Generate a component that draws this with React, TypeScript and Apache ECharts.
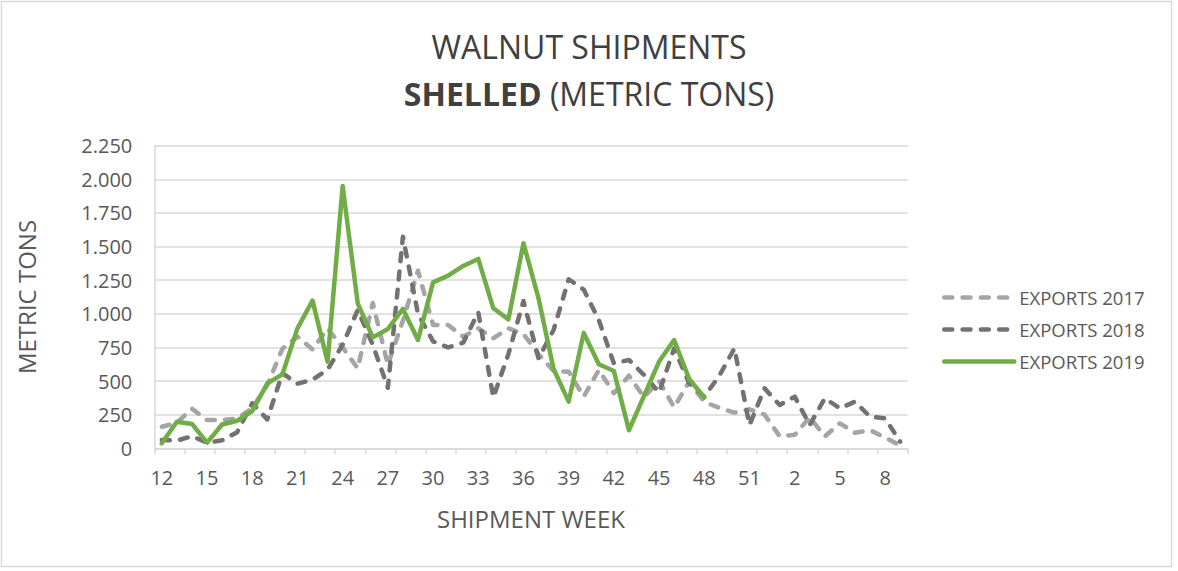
import React, { useEffect, useRef } from "react";
import * as echarts from "echarts";

const weeks = [
  "12", "13", "14", "15", "16", "17", "18", "19", "20", "21", "22", "23", "24", "25", "26", "27",
  "28", "29", "30", "31", "32", "33", "34", "35", "36", "37", "38", "39", "40", "41", "42", "43",
  "44", "45", "46", "47", "48", "49", "50", "51", "52", "1", "2", "3", "4", "5", "6", "7", "8", "9",
];

const exports2017 = [
  160, 190, 295, 210, 210, 220, 300, 470, 740, 830, 735, 890, 750, 595, 1080, 620,
  950, 1320, 917, 917, 830, 892, 818, 892, 850, 700, 575, 570, 384, 582, 410, 540,
  380, 500, 305, 495, 345, 300, 265, 290, 250, 90, 100, 230, 88, 186, 115, 135, 80, 20,
];

const exports2018 = [
  62, 57, 90, 42, 60, 120, 335, 215, 558, 480, 510, 585, 770, 1028, 770, 450,
  1573, 1000, 795, 750, 785, 1012, 378, 700, 1095, 669, 880, 1257, 1180, 954, 632, 657,
  545, 415, 743, 483, 384, 540, 743, 173, 446, 322, 384, 173, 372, 297, 347, 235, 223, 49,
];

const exports2019 = [
  37, 198, 181, 42, 177, 205, 276, 483, 550, 892, 1098, 644, 1950, 1078, 825, 887,
  1036, 805, 1234, 1284, 1356, 1408, 1041, 959, 1525, 1115, 590, 347, 858, 625, 575, 134,
  390, 645, 805, 515, 378,
];

const seriesNames = ["EXPORTS 2017", "EXPORTS 2018", "EXPORTS 2019"];
const titleLine1 = "WALNUT SHIPMENTS";
const titleBold = "SHELLED";
const titleRest = " (METRIC TONS)";

const FONT = "'Open Sans', sans-serif";

export default function App() {
  const ref = useRef<HTMLDivElement>(null);

  useEffect(() => {
    document.body.style.margin = "0";
    if (!ref.current) return;
    const chart = echarts.init(ref.current, undefined, { renderer: "svg" });
    const dash = { type: [8, 10.3], cap: "round" as const };
    chart.setOption({
      animation: false,
      backgroundColor: "#ffffff",
      textStyle: { fontFamily: FONT },
      graphic: [
        {
          type: "rect",
          shape: { x: 1.5, y: 1.5, width: 1170, height: 565 },
          style: { fill: "none", stroke: "#D9D9D9", lineWidth: 1.5 },
          silent: true,
        },
        {
          type: "text",
          x: 589,
          y: 46,
          style: {
            text: titleLine1,
            fontFamily: FONT,
            fontSize: 32,
            fill: "#404040",
            align: "center",
            verticalAlign: "middle",
          },
        },
        {
          type: "text",
          x: 589,
          y: 93,
          style: {
            text: "{b|" + titleBold + "}{a|" + titleRest + "}",
            align: "center",
            verticalAlign: "middle",
            rich: {
              a: { fontFamily: FONT, fontSize: 32, fill: "#404040" },
              b: { fontFamily: FONT, fontSize: 32, fontWeight: "bold", fill: "#404040" },
            },
          },
        },
      ],
      legend: {
        orient: "vertical",
        left: 942,
        top: 288,
        padding: 0,
        itemWidth: 70,
        itemHeight: 16,
        itemGap: 13,
        data: seriesNames,
        itemStyle: { opacity: 0 },
        lineStyle: { width: 4.5 },
        textStyle: { fontFamily: FONT, fontSize: 18.5, color: "#595959", padding: [0, 0, 0, 0] },
      },
      grid: { left: 154.3, right: 270.3, top: 145.7, bottom: 122.7, containLabel: false },
      xAxis: {
        type: "category",
        data: weeks,
        boundaryGap: true,
        name: "SHIPMENT WEEK",
        nameLocation: "middle",
        nameGap: 58,
        nameTextStyle: { fontFamily: FONT, fontSize: 24, color: "#595959" },
        axisLine: { show: true, lineStyle: { color: "#D9D9D9", width: 1.5 } },
        axisTick: { show: true, interval: 1, length: 6, lineStyle: { color: "#D9D9D9", width: 1.5 } },
        axisLabel: { interval: 2, margin: 19, fontFamily: FONT, fontSize: 20, color: "#595959" },
        splitLine: { show: false },
      },
      yAxis: {
        type: "value",
        min: 0,
        max: 2250,
        interval: 250,
        name: "METRIC TONS",
        nameLocation: "middle",
        nameGap: 116,
        nameRotate: 90,
        nameTextStyle: { fontFamily: FONT, fontSize: 24, color: "#595959" },
        axisLine: { show: true, lineStyle: { color: "#D9D9D9", width: 1.5 } },
        axisTick: { show: false },
        axisLabel: {
          margin: 22,
          fontFamily: FONT,
          fontSize: 20,
          color: "#595959",
          formatter: (v: number) => String(v).replace(/\B(?=(\d{3})+(?!\d))/g, "."),
        },
        splitLine: { show: true, lineStyle: { color: "#D9D9D9", width: 1.5 } },
      },
      series: [
        {
          name: seriesNames[0],
          type: "line",
          data: exports2017,
          symbol: "none",
          color: "#A5A5A5",
          lineStyle: { color: "#A5A5A5", width: 4.5, ...dash, join: "round" },
          z: 2,
        },
        {
          name: seriesNames[1],
          type: "line",
          data: exports2018,
          symbol: "none",
          color: "#767171",
          lineStyle: { color: "#767171", width: 4.5, ...dash, join: "round" },
          z: 3,
        },
        {
          name: seriesNames[2],
          type: "line",
          data: exports2019,
          symbol: "none",
          color: "#70AD47",
          lineStyle: { color: "#70AD47", width: 4.5, cap: "round", join: "round" },
          z: 4,
        },
      ],
    });
    return () => chart.dispose();
  }, []);

  return <div ref={ref} style={{ width: 1178, height: 571 }} />;
}
